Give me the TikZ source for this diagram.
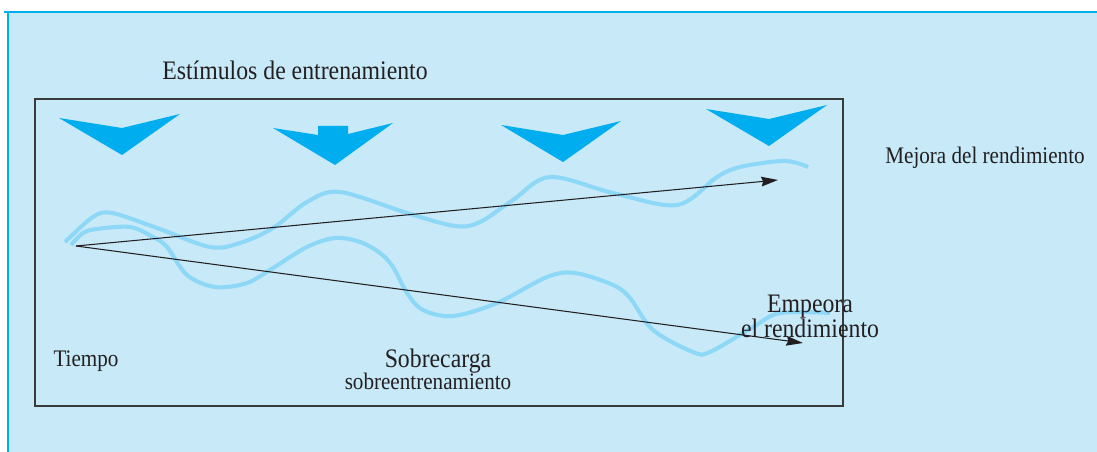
\documentclass[tikz,border=0pt]{standalone}
\usepackage{fontspec}
\setmainfont{Liberation Serif}
\usetikzlibrary{arrows.meta}

\definecolor{panelfill}{HTML}{C7E9F8}
\definecolor{panelline}{HTML}{00AEEF}
\definecolor{wavecolor}{HTML}{8DD7F7}
\definecolor{boxline}{HTML}{3A3A3A}
\definecolor{inktext}{HTML}{231F20}

% narrow setting of the labels
\newcommand{\narrowtext}[1]{\scalebox{0.89}[1]{#1}}

\begin{document}
\begin{tikzpicture}[x=0.02cm, y=-0.02cm,
  panel/.style={fill=panelfill},
  frame/.style={draw=boxline, line width=0.85pt},
  stimulus/.style={fill=panelline},
  wave/.style={draw=wavecolor, line width=2.3pt},
  flow/.style={-{Stealth[length=9.5pt,width=5.5pt,inset=1pt]}, line width=0.6pt, inktext},
  label/.style={anchor=base, inner sep=0pt, text=inktext, font=\fontsize{15.2}{17}\selectfont},
  smalllabel/.style={label, font=\fontsize{13.5}{15}\selectfont}]

\useasboundingbox (0,0) rectangle (1097,452);

% Background panel
\fill[panel] (8,12) rectangle (1097,452);
\draw[panelline, line width=0.9pt] (4,12) -- (1097,12) (8,12) -- (8,452);

% Frame
\draw[frame] (35,99) rectangle (843,406);

% Training stimuli
\fill[stimulus] (59,118) -- (122,128) -- (180,114) -- (122,155) -- cycle;
\fill[stimulus] (273,128) -- (318,135) -- (318,126) -- (348,126) -- (348,134)
  -- (393,123) -- (335,165) -- cycle;
\fill[stimulus] (501,125) -- (563,135) -- (621,121) -- (563,162) -- cycle;
\fill[stimulus] (706,109) -- (769,119) -- (827,105) -- (769,146) -- cycle;

% Performance waves
\draw[wave] plot[smooth, tension=0.55] coordinates {(65,242) (93,217) (112,213)
  (157,228) (210,247) (240,243) (273,228) (307,202) (340,192) (407,213)
  (455,226) (480,222) (513,200) (550,177) (613,193) (677,205) (717,177)
  (740,167) (780,161) (797,163) (808,167)};
\draw[wave] plot[smooth, tension=0.55] coordinates {(71,245) (83,233) (97,229)
  (130,227) (153,237) (167,247) (187,275) (215,287) (247,283) (273,268)
  (307,247) (335,238) (360,242) (380,253) (393,267) (407,293) (423,310)
  (453,316) (497,303) (547,277) (575,273) (613,285) (630,298) (653,330)
  (693,352) (710,352) (753,327) (780,313) (830,313)};

% Trend arrows
\coordinate (origin) at (76,246);
\coordinate (better) at (778,180);
\coordinate (worse) at (803,343);
\draw[flow] (origin) -- (better);
\draw[flow] (origin) -- (worse);

% Labels
\node[label] (stimuli) at (295,80) {\narrowtext{Estímulos de entrenamiento}};
\node[smalllabel] (improve) at (985,164) {\narrowtext{Mejora del rendimiento}};
\node[label] (worsen) at (810,312) {\narrowtext{Empeora}};
\node[label] (worsen2) at (810,337) {\narrowtext{el rendimiento}};
\node[smalllabel] (time) at (86,366) {\narrowtext{Tiempo}};
\node[label] (overload) at (438,367) {\narrowtext{Sobrecarga}};
\node[smalllabel] (overtrain) at (428,389) {\narrowtext{sobreentrenamiento}};

\end{tikzpicture}
\end{document}
